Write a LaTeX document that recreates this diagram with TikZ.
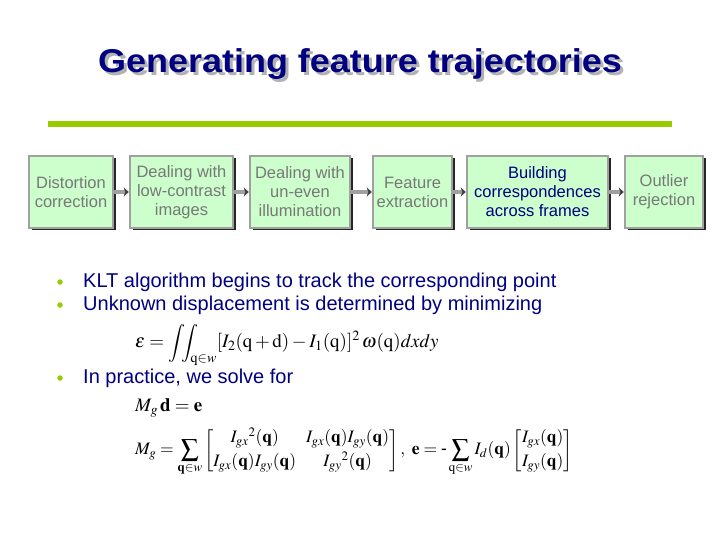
\documentclass[tikz,border=0pt]{standalone}
\usepackage{amsmath}
\usepackage{mathptmx}
\usepackage[no-math]{fontspec}
\setmainfont{Liberation Sans}
\usepackage{tikz}
\usetikzlibrary{arrows.meta}
\definecolor{titleblue}{RGB}{0,0,128}
\definecolor{linegreen}{RGB}{153,204,0}
\definecolor{boxgreen}{RGB}{204,255,204}
\definecolor{boxgray}{RGB}{160,160,160}
\definecolor{textgray}{RGB}{120,120,120}

\begin{document}
\begin{tikzpicture}[x=1pt,y=-1pt,
	stepbox/.style={draw=boxgray, line width=2.5pt, fill=boxgreen, minimum height=72pt, align=center, inner sep=0pt,
		font=\fontsize{16.5}{19}\selectfont, text=textgray,
		preaction={fill=black!85, transform canvas={xshift=2.5pt, yshift=-2.5pt}}},
	flow/.style={draw=boxgray, line width=4pt, shorten <=-1pt, -{Stealth[length=5pt,width=9pt,color=black!75,fill=black!75,line width=0.5pt]}},
	bullet/.style={circle, fill=linegreen, inner sep=0pt, minimum size=5.5pt},
	bullettext/.style={anchor=west, inner sep=0pt, text=titleblue, font=\fontsize{20}{24}\selectfont},
	eq/.style={anchor=west, inner sep=0pt}]
		\fill[white] (0,0) rectangle (720,540);
		\node[text=black!30, font=\fontsize{33}{38}\selectfont\bfseries, xscale=1.09] at (363,67) {Generating feature trajectories};
		\node[text=titleblue, font=\fontsize{33}{38}\selectfont\bfseries, xscale=1.09] (title) at (360,64) {Generating feature trajectories};
		\draw[linegreen, line width=6pt] (48,124) -- (672,124);
		\node[stepbox, minimum width=84pt] (dist) at (71,192) {Distortion\\correction};
		\node[stepbox, minimum width=103pt] (contrast) at (181.5,192) {Dealing with\\low-contrast\\images};
		\node[stepbox, minimum width=100pt] (illum) at (300,192) {Dealing with\\un-even\\illumination};
		\node[stepbox, minimum width=79pt] (feat) at (412.5,192) {Feature\\extraction};
		\node[stepbox, minimum width=141pt, text=titleblue] (corr) at (537.5,192) {Building\\correspondences\\across frames};
		\node[stepbox, minimum width=78pt] (outlier) at (664,192) {Outlier\\rejection};
		\draw[flow] (dist) -- (contrast);
		\draw[flow] (contrast) -- (illum);
		\draw[flow] (illum) -- (feat);
		\draw[flow] (feat) -- (corr);
		\draw[flow] (corr) -- (outlier);
		\node[bullet] (b1) at (60,282) {};
		\node[bullettext] (klt) at (83,282) {KLT algorithm begins to track the corresponding point};
		\node[bullet] (b2) at (60,305) {};
		\node[bullettext] (disp) at (83,305) {Unknown displacement is determined by minimizing};
		\node[eq, font=\fontsize{19}{23}\selectfont] (err) at (135,345)
			{$\varepsilon=\displaystyle\int\!\!\!\int_{\mathrm{q}\in w}[I_2(\mathrm{q}+\mathrm{d})-I_1(\mathrm{q})]^2\,\omega(\mathrm{q})dxdy$};
		\node[bullet] (b3) at (60,378) {};
		\node[bullettext] (prac) at (83,378) {In practice, we solve for};
		\node[eq, font=\fontsize{19}{23}\selectfont] (sys) at (135,408) {$M_g\,\mathbf{d}=\mathbf{e}$};
		\node[eq, font=\fontsize{17.5}{21}\selectfont] (mat) at (135,452)
			{$\displaystyle M_g=\sum_{\mathbf{q}\in w}\begin{bmatrix} I_{gx}{}^2(\mathbf{q}) & I_{gx}(\mathbf{q})I_{gy}(\mathbf{q})\\[3pt] I_{gx}(\mathbf{q})I_{gy}(\mathbf{q}) & I_{gy}{}^2(\mathbf{q})\end{bmatrix},\ \mathbf{e}=\text{-}\sum_{\mathrm{q}\in w}I_d(\mathbf{q})\begin{bmatrix}I_{gx}(\mathbf{q})\\[3pt] I_{gy}(\mathbf{q})\end{bmatrix}$};
		\end{tikzpicture}
\end{document}
